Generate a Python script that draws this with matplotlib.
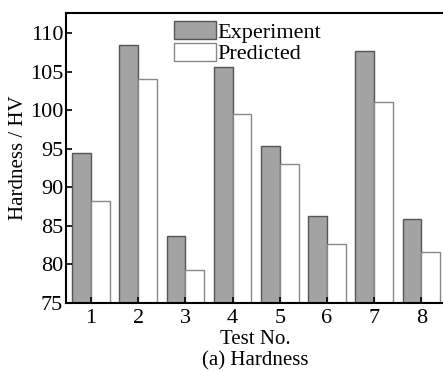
import matplotlib.pyplot as plt
import numpy as np

plt.rcParams['font.family'] = ['Liberation Serif', 'DejaVu Serif']

testes = [1, 2, 3, 4, 5, 6, 7, 8]
experiment = [94.4, 108.4, 83.7, 105.6, 95.4, 86.3, 107.7, 85.9]
predicted = [88.2, 104.0, 79.3, 99.5, 93.0, 82.6, 101.1, 81.6]

fig = plt.figure(figsize=(4.43, 3.72), dpi=100)
ax = fig.add_axes([66 / 443, 1 - 303 / 372, 379 / 443, 290 / 372])

x = np.array(testes)
w = 0.4
ax.bar(x - w / 2, experiment, w, bottom=0, color='#a3a3a3', edgecolor='#555555',
       linewidth=1.0, label='Experiment')
ax.bar(x + w / 2, predicted, w, bottom=0, color='white', edgecolor='#888888',
       linewidth=1.0, label='Predicted')

ax.set_xlim(0.47, 8.5)
ax.set_ylim(75, 112.6)
ax.set_xticks(testes)
ax.set_yticks([75, 80, 85, 90, 95, 100, 105, 110])
ax.tick_params(direction='in', length=4, width=1.2, labelsize=16)
ax.tick_params(axis='x', pad=4)
ax.tick_params(axis='y', pad=2)
for s in ax.spines.values():
    s.set_linewidth(1.5)

ax.set_xlabel('Test No.', fontsize=15, labelpad=2)
ax.set_ylabel('Hardness / HV', fontsize=15, labelpad=1)
fig.text(255 / 443, 2 / 372, '(a) Hardness', fontsize=15, ha='center', va='bottom')

ax.legend(loc='upper left', bbox_to_anchor=(0.245, 1.025), frameon=False, fontsize=16,
          handlelength=1.85, handleheight=0.85, labelspacing=0.0, handletextpad=0.1,
          borderpad=0.2)

fig.savefig('out.png', dpi=100)
